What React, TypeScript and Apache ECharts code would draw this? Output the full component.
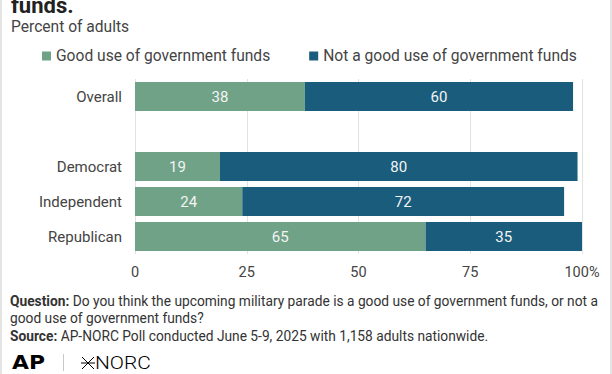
import React, { useEffect, useRef } from "react";
import * as echarts from "echarts";

const categories = ["Overall", "", "Democrat", "Independent", "Republican"];
const goodUse = [38, null, 19, 24, 65];
const notGoodUse = [60, null, 80, 72, 35];
const seriesNames = ["Good use of government funds", "Not a good use of government funds"];
const tickValues = [0, 25, 50, 75, 100];

const GREEN = "#6fa287";
const BLUE = "#1a5c7c";
const FONT = "Roboto, 'Noto Sans', sans-serif";

export default function App() {
  const ref = useRef<HTMLDivElement>(null);
  useEffect(() => {
    const chart = echarts.init(ref.current!, null, { renderer: "svg" });
    chart.setOption({
      animation: false,
      backgroundColor: "#ffffff",
      textStyle: { fontFamily: FONT },
      grid: { left: 135, top: 79, width: 447, height: 175, containLabel: false },
      legend: {
        top: 48,
        left: 42,
        padding: 0,
        icon: "rect",
        itemWidth: 9,
        itemHeight: 9,
        itemGap: 39,
        textStyle: { fontSize: 15.6, color: "#444", fontFamily: FONT },
        data: seriesNames,
      },
      xAxis: {
        type: "value",
        min: 0,
        max: 100,
        interval: 25,
        axisLine: { show: false },
        axisTick: { show: false },
        splitLine: { show: true, lineStyle: { color: "#e2e2e2", width: 1 } },
        axisLabel: {
          margin: 11,
          fontSize: 14.5,
          color: "#444",
          fontFamily: FONT,
          formatter: (v: number) => (v === tickValues[tickValues.length - 1] ? v + "%" : String(v)),
        },
      },
      yAxis: {
        type: "category",
        data: categories,
        inverse: true,
        axisLine: { show: false },
        axisTick: { show: false },
        axisLabel: { margin: 13, fontSize: 15, color: "#444", fontFamily: FONT },
      },
      series: [
        {
          name: seriesNames[0],
          type: "bar",
          stack: "total",
          barWidth: 29,
          itemStyle: { color: GREEN },
          label: { show: true, position: "inside", color: "#f4f4f4", fontSize: 15, fontFamily: FONT },
          data: goodUse,
        },
        {
          name: seriesNames[1],
          type: "bar",
          stack: "total",
          barWidth: 29,
          itemStyle: { color: BLUE },
          label: { show: true, position: "inside", color: "#f4f4f4", fontSize: 15, fontFamily: FONT },
          data: notGoodUse,
        },
      ],
      graphic: [
        { type: "rect", shape: { x: 0, y: 0, width: 2, height: 374 }, style: { fill: "#e4e4e4" } },
        { type: "rect", shape: { x: 610, y: 0, width: 2, height: 374 }, style: { fill: "#e4e4e4" } },
        {
          type: "text",
          left: 11,
          top: -6,
          style: { text: "funds.", font: `bold 22px ${FONT}`, fill: "#222", lineHeight: 22 },
        },
        {
          type: "text",
          left: 11,
          top: 19,
          style: { text: "Percent of adults", font: `15.6px ${FONT}`, fill: "#444" },
        },
        {
          type: "text",
          left: 10,
          top: 292,
          style: {
            text: "{b|Question:} Do you think the upcoming military parade is a good use of government funds, or not a\ngood use of government funds?\n{b|Source:} AP-NORC Poll conducted June 5-9, 2025 with 1,158 adults nationwide.",
            font: `13.75px ${FONT}`,
            fill: "#333",
            lineHeight: 17.5,
            rich: { b: { fontWeight: "bold", fontSize: 13.75, fontFamily: FONT, fill: "#333" } },
          },
        },
        {
          type: "text",
          x: 12,
          y: 355,
          scaleX: 1.15,
          style: { text: "AP", font: `900 19px 'DejaVu Sans', ${FONT}`, fill: "#000", lineHeight: 15 },
        },
        { type: "line", shape: { x1: 63.5, y1: 354, x2: 63.5, y2: 371 }, style: { stroke: "#c8c8c8", lineWidth: 1 } },
        { type: "line", shape: { x1: 82, y1: 357, x2: 94, y2: 369 }, style: { stroke: "#000", lineWidth: 1 } },
        { type: "line", shape: { x1: 94, y1: 357, x2: 82, y2: 369 }, style: { stroke: "#000", lineWidth: 1 } },
        { type: "line", shape: { x1: 81, y1: 363, x2: 95, y2: 363 }, style: { stroke: "#000", lineWidth: 1 } },
        {
          type: "text",
          x: 95,
          y: 355,
          scaleX: 1.1,
          style: { text: "NORC", font: `300 19px ${FONT}`, fill: "#000", lineHeight: 15 },
        },
      ],
    });
    return () => chart.dispose();
  }, []);
  return (
    <div
      ref={ref}
      style={{ position: "fixed", left: 0, top: 0, width: 612, height: 374 }}
    />
  );
}
